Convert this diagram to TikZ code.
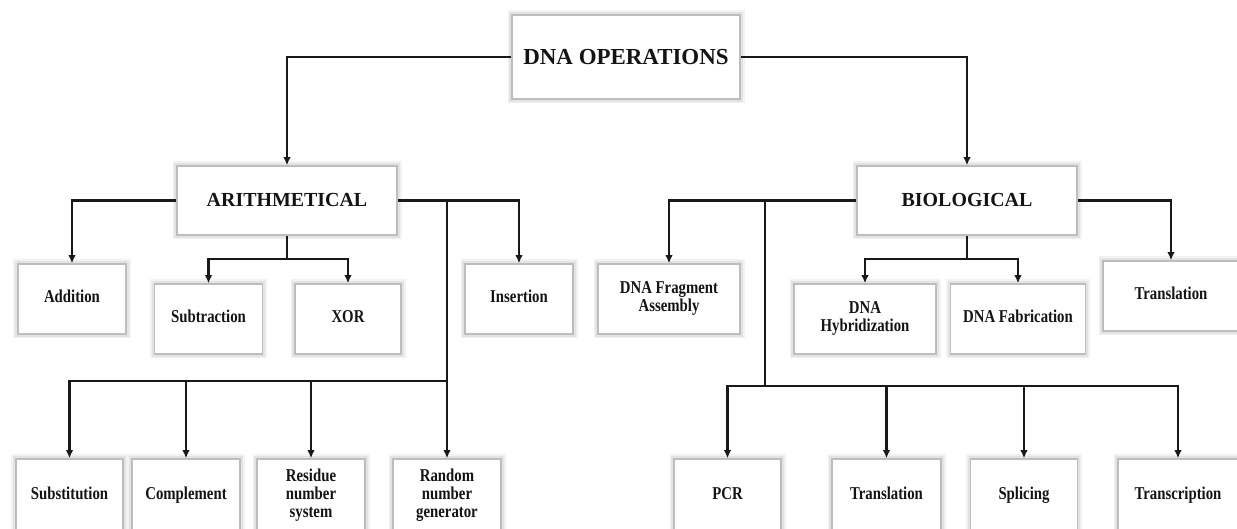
\documentclass[tikz,border=0pt]{standalone}
\usepackage{fontspec}
\setmainfont{Liberation Serif}
\usetikzlibrary{arrows.meta}
\newcommand{\lbl}[1]{\scalebox{0.9}[1.1]{\begin{tabular}{@{}c@{}}#1\end{tabular}}}
\begin{document}
\begin{tikzpicture}[x=1bp,y=-1bp,
  box/.style={draw=black!26, line width=1.6bp, fill=white,
    preaction={draw=black!5, line width=9bp},
    preaction={draw=black!11, line width=5.5bp},
    inner sep=0pt, align=center, text=black!92},
  conn/.style={line width=2.1bp, draw=black!90},
  arr/.style={conn,-{Latex[length=8bp,width=7.5bp]}},
  big/.style={font=\fontsize{23}{26}\selectfont\bfseries},
  mid/.style={font=\fontsize{20}{23}\selectfont\bfseries},
  sml/.style={font=\fontsize{16.5}{16}\selectfont\bfseries},
]
\useasboundingbox (0,0) rectangle (1237,529);
\fill[white] (0,0) rectangle (1237,529);
\clip (0,0) rectangle (1237,529);

% top levels
\node[box,big,minimum width=228bp,minimum height=84bp] (dna) at (626,57) {DNA OPERATIONS};
\node[box,mid,minimum width=220bp,minimum height=69bp] (arith) at (287,200.5) {ARITHMETICAL};
\node[box,mid,minimum width=220bp,minimum height=69bp] (bio) at (967,200.5) {BIOLOGICAL};

% arithmetical children
\node[box,sml,minimum width=108bp,minimum height=70bp] (add) at (72,299) {\lbl{Addition}};
\node[box,sml,minimum width=108bp,minimum height=70bp] (sub) at (208.5,319) {\lbl{Subtraction}};
\node[box,sml,minimum width=106bp,minimum height=70bp] (xor) at (348,319) {\lbl{XOR}};
\node[box,sml,minimum width=108bp,minimum height=70bp] (ins) at (519,299) {\lbl{Insertion}};
\node[box,sml,minimum width=107bp,minimum height=74bp] (subst) at (69.5,496) {\lbl{Substitution}};
\node[box,sml,minimum width=108bp,minimum height=74bp] (comp) at (186,496) {\lbl{Complement}};
\node[box,sml,minimum width=108bp,minimum height=74bp] (res) at (311,496) {\lbl{Residue\\number\\system}};
\node[box,sml,minimum width=108bp,minimum height=74bp] (rand) at (447,496) {\lbl{Random\\number\\generator}};

% biological children
\node[box,sml,minimum width=142bp,minimum height=70bp] (frag) at (669,299) {\lbl{DNA Fragment\\Assembly}};
\node[box,sml,minimum width=142bp,minimum height=70bp] (hyb) at (865,319) {\lbl{DNA\\Hybridization}};
\node[box,sml,minimum width=135bp,minimum height=70bp] (fab) at (1018,319) {\lbl{DNA Fabrication}};
\node[box,sml,minimum width=136bp,minimum height=70bp] (trla) at (1171,296) {\lbl{Translation}};
\node[box,sml,minimum width=107bp,minimum height=74bp] (pcr) at (727.5,496) {\lbl{PCR}};
\node[box,sml,minimum width=109bp,minimum height=74bp] (trlb) at (886.5,496) {\lbl{Translation}};
\node[box,sml,minimum width=107bp,minimum height=74bp] (spl) at (1024,496) {\lbl{Splicing}};
\node[box,sml,minimum width=120bp,minimum height=74bp] (trsc) at (1178,496) {\lbl{Transcription}};

% junction coordinates
\coordinate (abus) at (287,259);
\coordinate (aj) at (447,200.5);
\coordinate (abot) at (447,381);
\coordinate (bbus) at (967,259);
\coordinate (bj) at (765,200.5);
\coordinate (bbot) at (765,386);

% connectors from the root
\draw[arr] (dna.west) -| (arith.north);
\draw[arr] (dna.east) -| (bio.north);

% arithmetical connectors
\draw[arr] (arith.west) -| (add.north);
\draw[conn] (arith.south) -- (abus);
\draw[arr] (abus) -| (sub.north);
\draw[arr] (abus) -| (xor.north);
\draw[arr] (arith.east) -| (ins.north);
\draw[conn] (aj) -- (abot);
\draw[arr] (abot) -| (subst.north);
\draw[arr] (abot) -| (comp.north);
\draw[arr] (abot) -| (res.north);
\draw[arr] (abot) -- (rand.north);

% biological connectors
\draw[arr] (bio.west) -| (frag.north);
\draw[conn] (bj) -- (bbot);
\draw[arr] (bbot) -| (pcr.north);
\draw[arr] (bbot) -| (trlb.north);
\draw[arr] (bbot) -| (spl.north);
\draw[arr] (bbot) -| (trsc.north);
\draw[conn] (bio.south) -- (bbus);
\draw[arr] (bbus) -| (hyb.north);
\draw[arr] (bbus) -| (fab.north);
\draw[arr] (bio.east) -| (trla.north);
\end{tikzpicture}
\end{document}
